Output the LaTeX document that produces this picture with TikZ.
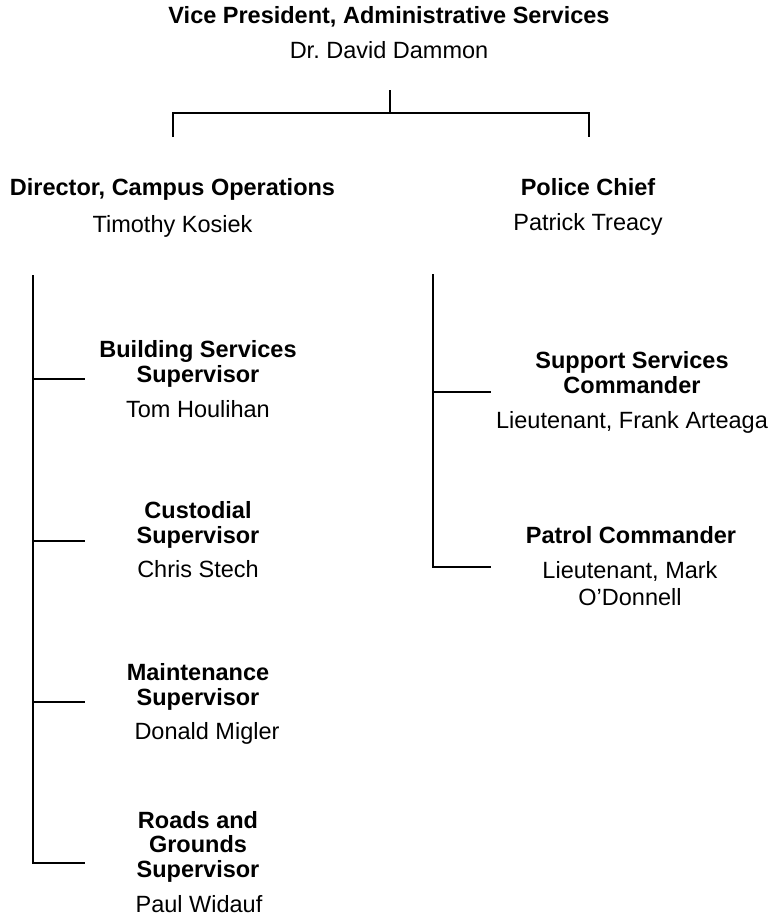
\documentclass[tikz,border=0pt]{standalone}
\usepackage{fontspec}
\setmainfont{Liberation Sans}
\usetikzlibrary{positioning}

\tikzset{
  post/.style={font=\fontsize{23.5}{24.5}\selectfont\bfseries, align=center, anchor=base, inner sep=0pt},
  who/.style={font=\fontsize{23.5}{27}\selectfont, align=center, anchor=base, inner sep=0pt},
  bar/.style={line width=2.5pt}
}

\begin{document}
\frenchspacing
\begin{tikzpicture}[x=1pt,y=-1pt]
			%%%%% START %%%%%
			\useasboundingbox (0,0) rectangle (774,919);
			
			\node[post] (vp) at (389, 23) {Vice President, Administrative Services};
			\node[who] (vpname) at (389, 58) {Dr. David Dammon};
			
			\node[post] (dir) at (172.5, 195) {Director, Campus Operations};
			\node[who] (dirname) at (172.5, 232) {Timothy Kosiek};
			
			\node[post] (chief) at (588, 195) {Police Chief};
			\node[who] (chiefname) at (588, 230) {Patrick Treacy};
			
			% base sits on the last line
			\node[post] (bldg) at (198, 382) {Building Services\\Supervisor};
			\node[who] (bldgname) at (198, 417) {Tom Houlihan};
			
			\node[post] (cust) at (198, 543) {Custodial\\Supervisor};
			\node[who] (custname) at (198, 577) {Chris Stech};
			
			\node[post] (maint) at (198, 705) {Maintenance\\Supervisor};
			\node[who] (maintname) at (207, 739) {Donald Migler};
			
			\node[post] (roads) at (198, 877) {Roads and\\Grounds\\Supervisor};
			\node[who] (roadsname) at (199, 912) {Paul Widauf};
			
			\node[post] (supp) at (632, 393) {Support Services\\Commander};
			\node[who] (suppname) at (632, 428) {Lieutenant, Frank Arteaga};
			
			\node[post] (patrol) at (631, 543) {Patrol Commander};
			\node[who] (patrolname) at (630, 605) {Lieutenant, Mark\\O’Donnell};
			
			% top split
			\coordinate (vpfoot) at (390, 90);
			\coordinate (split) at (390, 113);
			\coordinate (splitL) at (173, 113);
			\coordinate (splitR) at (589, 113);
			\coordinate (dirhead) at (173, 137);
			\coordinate (chiefhead) at (589, 137);
			\draw[bar] (vpfoot) -- (split);
			\draw[bar] (dirhead) -- (splitL) -- (splitR) -- (chiefhead);
			
			% campus operations
			\coordinate (busL) at (33, 275);
			\coordinate (busLend) at (33, 863);
			\coordinate (roadsfoot) at (85, 863);
			\draw[bar] (busL) -- (busLend) -- (roadsfoot);
			\draw[bar] (33, 379) coordinate (bldgjoin) -- (85, 379) coordinate (bldgfoot);
			\draw[bar] (33, 541) coordinate (custjoin) -- (85, 541) coordinate (custfoot);
			\draw[bar] (33, 702) coordinate (maintjoin) -- (85, 702) coordinate (maintfoot);
			
			% police
			\coordinate (busR) at (433, 274);
			\coordinate (busRend) at (433, 567);
			\coordinate (patrolfoot) at (491, 567);
			\draw[bar] (busR) -- (busRend) -- (patrolfoot);
			\draw[bar] (433, 392) coordinate (suppjoin) -- (491, 392) coordinate (suppfoot);
			
			%%%%% END %%%%%
\end{tikzpicture}
\end{document}
